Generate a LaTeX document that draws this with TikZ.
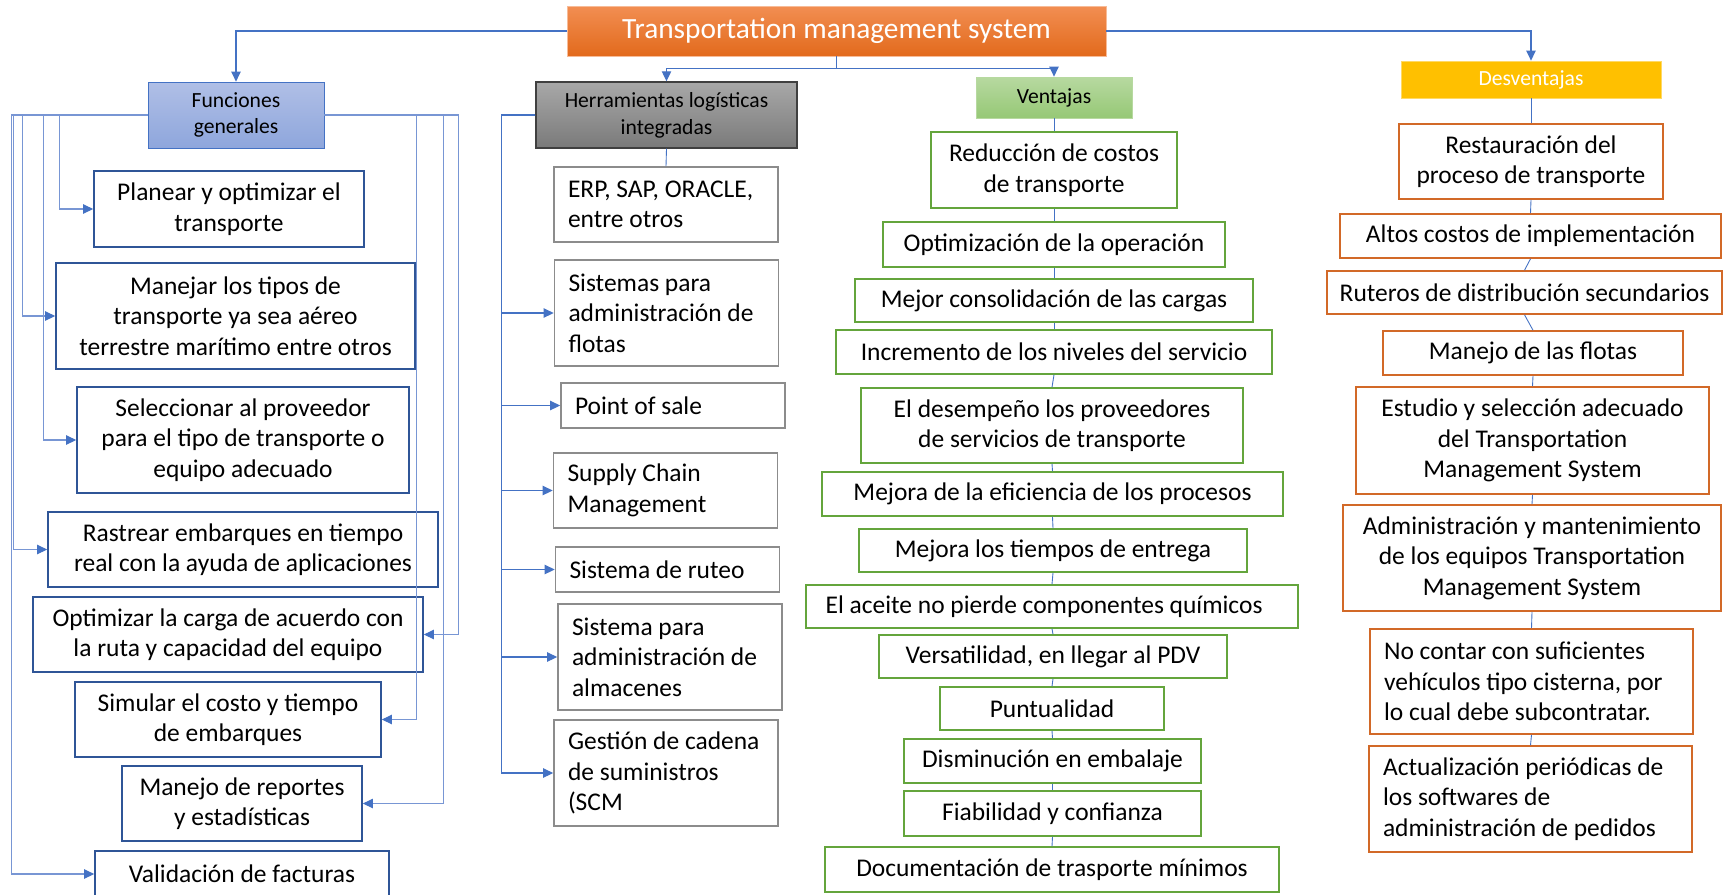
\documentclass[tikz,border=0pt]{standalone}
\usepackage{fontspec}
\setmainfont{Carlito}
\usetikzlibrary{arrows.meta}

\definecolor{connblue}{RGB}{68,114,196}
\definecolor{connlight}{RGB}{120,150,212}
\definecolor{titletop}{RGB}{242,142,82}
\definecolor{titlebot}{RGB}{226,106,28}
\definecolor{funtop}{RGB}{176,191,230}
\definecolor{funbot}{RGB}{142,166,220}
\definecolor{herrtop}{RGB}{168,168,168}
\definecolor{herrbot}{RGB}{122,122,122}
\definecolor{ventop}{RGB}{183,217,160}
\definecolor{venbot}{RGB}{150,200,118}
\definecolor{desvfill}{RGB}{255,192,0}
\definecolor{funline}{RGB}{47,85,151}
\definecolor{herrline}{RGB}{140,140,140}
\definecolor{venline}{RGB}{100,165,60}
\definecolor{desvline}{RGB}{210,105,40}

\newcommand{\boxfont}{\fontsize{14.5}{17.4}\selectfont}
\newcommand{\headfont}{\fontsize{12.3}{15.2}\selectfont}
\newcommand{\titlefont}{\fontsize{16.7}{20}\selectfont}

\begin{document}
\begin{tikzpicture}[x=0.02cm, y=-0.02cm,
		every node/.style={rectangle, inner sep=0.1cm, align=center, font=\boxfont},
		wh/.style 2 args={minimum width=#1*0.02cm, minimum height=#2*0.02cm},
		plainspace/.style={execute at begin node={\spaceskip=0pt\xspaceskip=0pt\relax}},
		titlebox/.style={draw=titletop!60!white, top color=titletop, bottom color=titlebot, text=white, font=\titlefont},
		funhead/.style={draw=connblue, top color=funtop, bottom color=funbot, font=\headfont},
		herrhead/.style={draw=black!75, line width=0.8pt, top color=herrtop, bottom color=herrbot, font=\headfont},
		venhead/.style={draw=ventop, top color=ventop, bottom color=venbot, font=\headfont},
		desvhead/.style={draw=desvfill!60!white, fill=desvfill, text=white, font=\headfont},
		funitem/.style={draw=funline, line width=0.9pt, fill=white},
		herritem/.style={draw=herrline, line width=0.9pt, fill=white, align=flush left, plainspace, text width=3.92cm, inner xsep=0.28cm, inner ysep=0pt},
		venitem/.style={draw=venline, line width=0.9pt, fill=white},
		desvitem/.style={draw=desvline, line width=0.9pt, fill=white},
		desvleft/.style={desvitem, align=flush left, plainspace, text width=5.9cm, inner xsep=0.28cm, inner ysep=0pt},
		tconn/.style={draw=connblue, line width=0.7pt, -{Triangle[length=5.7pt, width=5.3pt]}},
		fconn/.style={draw=connlight, line width=0.6pt, -{Triangle[length=5.7pt, width=5.3pt, color=connblue]}},
		lconn/.style={draw=connblue, line width=0.5pt}]

		\path[use as bounding box, fill=white] (0,0) rectangle (1734,894);

		\node[titlebox, wh={539}{50}] (tms) at (836.5,31) {Transportation management system};

		\node[funhead, wh={176}{66}] (fun) at (236,115) {Funciones\\generales};
		\node[herrhead, wh={261}{66}] (herr) at (666.5,115) {Herramientas logísticas\\integradas};
		\node[venhead, wh={156}{41}] (vent) at (1054,97.5) {Ventajas};
		\node[desvhead, wh={260}{37}] (desv) at (1531,79.5) {Desventajas};

		\node[funitem, wh={270}{76}] (fun1) at (229,209) {Planear y optimizar el\\transporte};
		\node[funitem, wh={359}{106}] (fun2) at (235.5,316) {Manejar los tipos de\\transporte ya sea aéreo\\terrestre marítimo entre otros};
		\node[funitem, wh={332}{106}] (fun3) at (243,440) {Seleccionar al proveedor\\para el tipo de transporte o\\equipo adecuado};
		\node[funitem, wh={390}{75}] (fun4) at (243,549.5) {Rastrear embarques en tiempo\\real con la ayuda de aplicaciones};
		\node[funitem, wh={390}{75}] (fun5) at (228,634.5) {Optimizar la carga de acuerdo con\\la ruta y capacidad del equipo};
		\node[funitem, wh={306}{75}] (fun6) at (228,719.5) {Simular el costo y tiempo\\de embarques};
		\node[funitem, wh={240}{75}] (fun7) at (242,803.5) {Manejo de reportes\\y estadísticas};
		\node[funitem, wh={294}{46}] (fun8) at (242,874) {Validación de facturas};

		\node[herritem, wh={224}{75}] (herr1) at (666,204.5) {ERP, SAP, ORACLE,\\entre otros};
		\node[herritem, wh={224}{106}] (herr2) at (666.5,313) {Sistemas para\\administración de\\flotas};
		\node[herritem, wh={224}{45}] (herr3) at (673,405.5) {Point of sale};
		\node[herritem, wh={224}{75}] (herr4) at (665.5,490.5) {Supply Chain\\Management};
		\node[herritem, wh={224}{45}] (herr5) at (667.5,569.5) {Sistema de ruteo};
		\node[herritem, wh={224}{106}] (herr6) at (670,657) {Sistema para\\administración de\\almacenes};
		\node[herritem, wh={224}{106}] (herr7) at (666,773) {Gestión de cadena\\de suministros\\(SCM};

		\node[venitem, wh={246}{76}] (ven1) at (1054,170) {Reducción de costos\\de transporte};
		\node[venitem, wh={342}{45}] (ven2) at (1054,244.5) {Optimización de la operación};
		\node[venitem, wh={398}{43}] (ven3) at (1054,300.5) {Mejor consolidación de las cargas};
		\node[venitem, wh={436}{44}] (ven4) at (1054,352) {Incremento de los niveles del servicio};
		\node[venitem, wh={382}{75}] (ven5) at (1052,425.5) {El desempeño los proveedores\\de servicios de transporte};
		\node[venitem, wh={461}{44}] (ven6) at (1052.5,494) {Mejora de la eficiencia de los procesos};
		\node[venitem, wh={388}{43}] (ven7) at (1053,550.5) {Mejora los tiempos de entrega};
		\node[venitem, wh={492}{43}] (ven8) at (1052,606.5) {El aceite no pierde componentes químicos\hspace*{9pt}};
		\node[venitem, wh={348}{43}] (ven9) at (1053,656.5) {Versatilidad, en llegar al PDV};
		\node[venitem, wh={224}{43}] (ven10) at (1052,708.5) {Puntualidad};
		\node[venitem, wh={297}{44}] (ven11) at (1052.5,761) {Disminución en embalaje};
		\node[venitem, wh={297}{45}] (ven12) at (1052.5,813.5) {Fiabilidad y confianza};
		\node[venitem, wh={454}{45}] (ven13) at (1052,869.5) {Documentación de trasporte mínimos};

		\node[desvitem, wh={264}{75}] (desv1) at (1531,161.5) {Restauración del\\proceso de transporte};
		\node[desvitem, wh={381}{44}] (desv2) at (1530.5,236) {Altos costos de implementación};
		\node[desvitem, wh={395}{43}] (desv3) at (1524.5,292.5) {Ruteros de distribución secundarios};
		\node[desvitem, wh={300}{44}] (desv4) at (1533,353) {Manejo de las flotas};
		\node[desvitem, wh={353}{107}] (desv5) at (1532.5,440.5) {Estudio y selección adecuado\\del Transportation\\Management System};
		\node[desvitem, wh={378}{106}] (desv6) at (1532,558) {Administración y mantenimiento\\de los equipos Transportation\\Management System};
		\node[desvleft, wh={323}{105}] (desv7) at (1531.5,681.5) {No contar con suficientes\\vehículos tipo cisterna, por\\lo cual debe subcontratar.};
		\node[desvleft, wh={323}{106}] (desv8) at (1530.5,799) {Actualización periódicas de\\los softwares de\\administración de pedidos};

		\draw[tconn] (tms.west) -| (fun.north);
		\draw[tconn] (tms.east) -| (desv.north);
		\draw[tconn] (tms.south) -- ++(0,12.5) -| (herr.north);
		\draw[tconn] (tms.south) -- ++(0,12.5) -| (vent.north);

		\draw[fconn] (fun.west) -- ++(-88,0) |- (fun1.west);
		\draw[fconn] (fun.west) -- ++(-125,0) |- (fun2.west);
		\draw[fconn] (fun.west) -- ++(-104,0) |- (fun3.west);
		\draw[fconn] (fun.west) -- ++(-134,0) |- (fun4.west);
		\draw[fconn] (fun.east) -- ++(134,0) |- (fun5.east);
		\draw[fconn] (fun.east) -- ++(92,0) |- (fun6.east);
		\draw[fconn] (fun.east) -- ++(119,0) |- (fun7.east);
		\draw[fconn] (fun.west) -- ++(-136,0) |- (fun8.west);

		\draw[lconn] (herr.south) -- (herr1.north);
		\draw[tconn] (herr.west) -- ++(-34,0) |- (herr2.west);
		\draw[tconn] (herr.west) -- ++(-34,0) |- (herr3.west);
		\draw[tconn] (herr.west) -- ++(-34,0) |- (herr4.west);
		\draw[tconn] (herr.west) -- ++(-34,0) |- (herr5.west);
		\draw[tconn] (herr.west) -- ++(-34,0) |- (herr6.west);
		\draw[tconn] (herr.west) -- ++(-34,0) |- (herr7.west);

		\draw[lconn] (vent.south) -- (ven1.north);
		\draw[lconn] (ven1.south) -- (ven2.north);
		\draw[lconn] (ven2.south) -- (ven3.north);
		\draw[lconn] (ven3.south) -- (ven4.north);
		\draw[lconn] (ven4.south) -- (ven5.north);
		\draw[lconn] (ven5.south) -- (ven6.north);
		\draw[lconn] (ven6.south) -- (ven7.north);
		\draw[lconn] (ven7.south) -- (ven8.north);
		\draw[lconn] (ven8.south) -- (ven9.north);
		\draw[lconn] (ven9.south) -- (ven10.north);
		\draw[lconn] (ven10.south) -- (ven11.north);
		\draw[lconn] (ven11.south) -- (ven12.north);
		\draw[lconn] (ven12.south) -- (ven13.north);

		\draw[lconn] (desv.south) -- (desv1.north);
		\draw[lconn] (desv1.south) -- (desv2.north);
		\draw[lconn] (desv2.south) -- (desv3.north);
		\draw[lconn] (desv3.south) -- (desv4.north);
		\draw[lconn] (desv4.south) -- (desv5.north);
		\draw[lconn] (desv5.south) -- (desv6.north);
		\draw[lconn] (desv6.south) -- (desv7.north);
		\draw[lconn] (desv7.south) -- (desv8.north);
	\end{tikzpicture}
\end{document}
